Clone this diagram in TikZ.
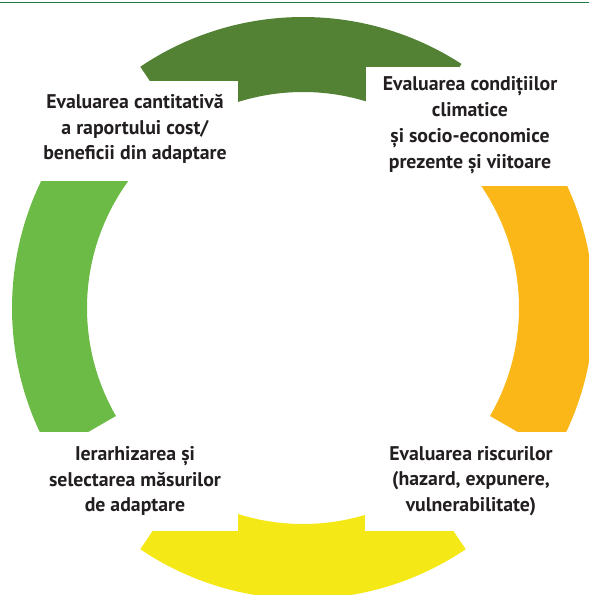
\documentclass[tikz,border=0pt]{standalone}
\usepackage{fontspec}
\setmainfont{PT Sans}
\definecolor{topgreen}{HTML}{548235}
\definecolor{leftgreen}{HTML}{6CBB47}
\definecolor{ringorange}{HTML}{FBB617}
\definecolor{ringyellow}{HTML}{F5E817}
\definecolor{rulegreen}{HTML}{1F7A45}
\definecolor{txt}{HTML}{231F20}
\begin{document}
\begin{tikzpicture}[x=1pt,y=1pt,
  mask/.style={fill=white,draw=none,inner sep=0pt,anchor=south west},
  label/.style={align=center,text=txt,font=\bfseries\fontsize{19.8}{25.8}\selectfont,inner sep=0pt}]
\useasboundingbox (0,0) rectangle (589,595);
\coordinate (c) at (303,287);
\coordinate (ruleL) at (0,592.5);
\coordinate (ruleR) at (589,592.5);
\draw[rulegreen,line width=1.6pt] (ruleL) -- (ruleR);
% ring segments
\fill[topgreen,shift={(c)}] (57:291) arc[start angle=57,end angle=124,radius=291] -- (124:216) arc[start angle=124,end angle=57,radius=216] -- cycle;
\fill[leftgreen,shift={(c)}] (140:291) arc[start angle=140,end angle=210,radius=291] -- (210:216) arc[start angle=210,end angle=140,radius=216] -- cycle;
\fill[ringyellow,shift={(c)}] (236:291) arc[start angle=236,end angle=304,radius=291] -- (304:216) arc[start angle=304,end angle=236,radius=216] -- cycle;
\fill[ringorange,shift={(c)}] (-30:291) arc[start angle=-30,end angle=40,radius=291] -- (40:216) arc[start angle=40,end angle=-30,radius=216] -- cycle;
% white masks behind the labels
\node[mask,minimum width=218pt,minimum height=100pt] (mTL) at (20,414) {};
\node[mask,minimum width=223pt,minimum height=119pt] (mTR) at (366,409) {};
\node[mask,minimum width=238pt,minimum height=99pt] (mBL) at (0,64) {};
\node[mask,minimum width=224pt,minimum height=99pt] (mBR) at (365,64) {};
% labels
\node[label] (tTL) at (135,466) {Evaluarea cantitativă\\a raportului cost/\\beneficii din adaptare};
\node[label] (tTR) at (470,470) {Evaluarea condițiilor\\climatice\\și socio-economice\\prezente și viitoare};
\node[label] (tBL) at (135,114) {Ierarhizarea și\\selectarea măsurilor\\de adaptare};
\node[label] (tBR) at (471,114) {Evaluarea riscurilor\\(hazard, expunere,\\vulnerabilitate)};
\end{tikzpicture}
\end{document}
